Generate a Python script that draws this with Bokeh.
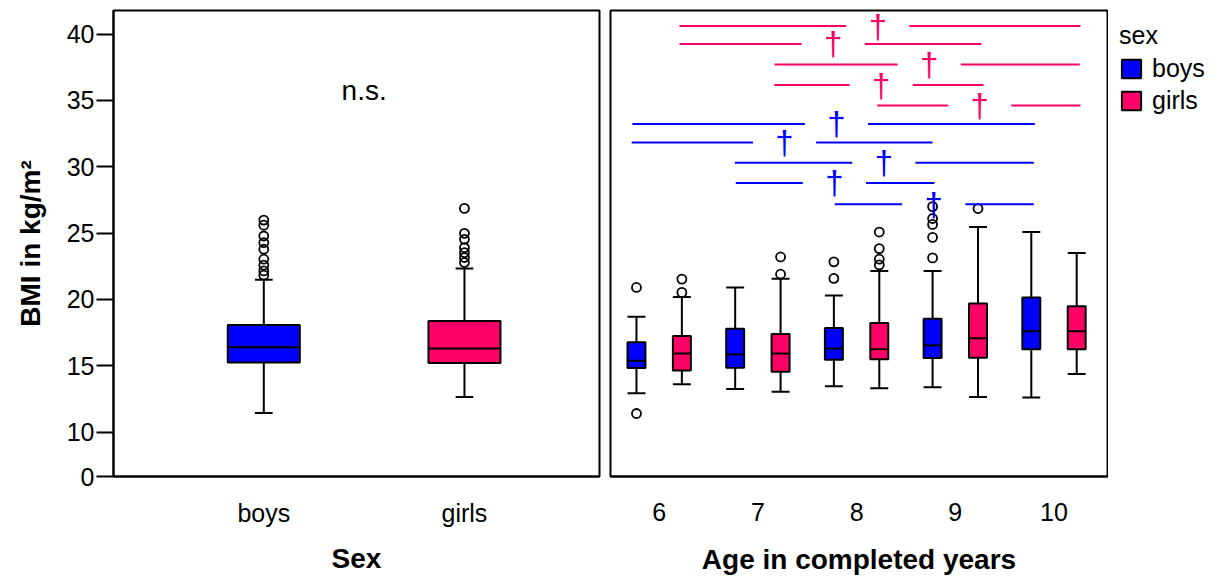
from bokeh.plotting import figure
from bokeh.models import Range1d, FixedTicker, CustomJSTickFormatter, Legend, LegendItem
from bokeh.layouts import row
from bokeh.embed import file_html
from bokeh.resources import INLINE
from bokeh.core.properties import value

FONT = "Liberation Sans"
BLUE = "#0000FF"
PINK = "#FF0066"

# ---------------- data: left panel (by sex) ----------------
sex_labels = ["boys", "girls"]
sex_pos = [1, 2]
sex_q1 = [15.25, 15.2]
sex_med = [16.4, 16.3]
sex_q3 = [18.08, 18.38]
sex_lo = [11.43, 12.65]
sex_hi = [21.48, 22.33]
boys_out_all = [21.83, 22.15, 22.58, 23.03, 23.78, 24.28, 24.78, 25.6, 25.98]
girls_out_all = [22.78, 23.16, 23.53, 23.9, 24.53, 24.98, 26.86]

# ---------------- data: right panel (by age and sex) ----------------
ages = [6, 7, 8, 9, 10]
boys_q1 = [14.83, 14.85, 15.45, 15.58, 16.25]
boys_med = [15.38, 15.85, 16.3, 16.55, 17.6]
boys_q3 = [16.78, 17.78, 17.85, 18.55, 20.15]
boys_lo = [12.93, 13.25, 13.45, 13.38, 12.6]
boys_hi = [18.7, 20.9, 20.3, 22.15, 25.08]
boys_out_age = [6, 6, 8, 8, 9, 9, 9, 9, 9]
boys_out_val = [20.9, 11.4, 21.58, 22.83, 23.13, 24.68, 25.65, 26.1, 27.0]

girls_q1 = [14.65, 14.55, 15.48, 15.6, 16.25]
girls_med = [15.93, 15.93, 16.25, 17.08, 17.6]
girls_q3 = [17.25, 17.4, 18.23, 19.7, 19.48]
girls_lo = [13.6, 13.03, 13.3, 12.65, 14.38]
girls_hi = [20.18, 21.55, 22.15, 25.45, 23.5]
girls_out_age = [6, 6, 7, 7, 8, 8, 8, 8, 9]
girls_out_val = [20.53, 21.53, 21.9, 23.2, 22.6, 23.03, 23.83, 25.08, 26.85]

# significance brackets (x in age units, y in BMI units)
sig_girls_start = [6.206, 6.206, 7.168, 7.168, 8.209]
sig_girls_end = [10.268, 9.265, 10.261, 9.286, 10.268]
sig_girls_mark = [8.215, 7.763, 8.736, 8.249, 9.248]
sig_girls_y = [40.61, 39.26, 37.71, 36.16, 34.61]

sig_boys_start = [5.729, 5.722, 6.766, 6.776, 7.779]
sig_boys_end = [9.806, 8.769, 9.795, 8.789, 9.795]
sig_boys_mark = [7.796, 7.270, 8.276, 7.776, 8.782]
sig_boys_y = [33.23, 31.83, 30.31, 28.78, 27.18]

ns_label = "n.s."
ns_x, ns_y = 1.5, 35.78

legend_title = "sex"
legend_labels = ["boys", "girls"]
legend_colors = [BLUE, PINK]

YMIN, YMAX = 6.65, 41.78
OFFSET = 0.23
GAP = 0.32


def style(p):
    p.outline_line_color = "black"
    p.outline_line_width = 2
    p.outline_line_alpha = 1
    p.xgrid.visible = False
    p.ygrid.visible = False
    p.background_fill_color = "white"
    p.border_fill_color = "white"


def draw_boxes(p, xs, q1, med, q3, lo, hi, color, bw, cw):
    r = p.quad(left=[x - bw / 2 for x in xs], right=[x + bw / 2 for x in xs],
               bottom=q1, top=q3, fill_color=color, line_color="black", line_width=2)
    p.segment(x0=xs, x1=xs, y0=q3, y1=hi, line_color="black", line_width=2)
    p.segment(x0=xs, x1=xs, y0=lo, y1=q1, line_color="black", line_width=2)
    p.segment(x0=[x - cw / 2 for x in xs], x1=[x + cw / 2 for x in xs], y0=hi, y1=hi,
              line_color="black", line_width=2)
    p.segment(x0=[x - cw / 2 for x in xs], x1=[x + cw / 2 for x in xs], y0=lo, y1=lo,
              line_color="black", line_width=2)
    p.segment(x0=[x - bw / 2 for x in xs], x1=[x + bw / 2 for x in xs], y0=med, y1=med,
              line_color="black", line_width=2)
    return r


def label_axis(ax, size="25px"):
    ax.major_label_text_font = FONT
    ax.major_label_text_font_size = size
    ax.major_label_text_color = "black"
    ax.axis_label_text_font = FONT
    ax.axis_label_text_font_size = "28px"
    ax.axis_label_text_font_style = "bold"
    ax.axis_label_text_color = "black"


H = 577
# ---------------- left figure ----------------
p1 = figure(width=604, height=H, x_range=Range1d(0.251, 2.673), y_range=Range1d(YMIN, YMAX),
            output_backend="svg", toolbar_location=None,
            min_border_left=113, min_border_right=5, min_border_top=10, min_border_bottom=99)
style(p1)

draw_boxes(p1, sex_pos, sex_q1, sex_med, sex_q3, sex_lo, sex_hi, [BLUE, PINK], 0.359, 0.088)
p1.scatter(x=[sex_pos[0]] * len(boys_out_all), y=boys_out_all, size=9, fill_alpha=0,
           line_color="black", line_width=1.8)
p1.scatter(x=[sex_pos[1]] * len(girls_out_all), y=girls_out_all, size=9, fill_alpha=0,
           line_color="black", line_width=1.8)
p1.text(x=[ns_x], y=[ns_y], text=[ns_label], text_font=value(FONT), text_font_size="28px",
        text_align="center", text_baseline="middle", text_color="black")

yax = p1.yaxis[0]
yax.ticker = FixedTicker(ticks=[YMIN, 10, 15, 20, 25, 30, 35, 40])
yax.formatter = CustomJSTickFormatter(code="return tick < 8 ? '0' : tick.toFixed(0)")
yax.major_tick_out = 17
yax.major_tick_in = 0
yax.major_tick_line_width = 2
yax.minor_tick_line_color = None
yax.axis_line_width = 2
yax.major_label_standoff = 2
yax.axis_label = "BMI in kg/m²"
yax.axis_label_standoff = 18
label_axis(yax)

xax = p1.xaxis[0]
xax.ticker = FixedTicker(ticks=sex_pos)
xax.major_label_overrides = {sex_pos[i]: sex_labels[i] for i in range(2)}
xax.major_tick_line_color = None
xax.minor_tick_line_color = None
xax.axis_line_width = 2
xax.major_label_standoff = 16
xax.axis_label = "Sex"
xax.axis_label_standoff = 13
label_axis(xax)

# ---------------- right figure ----------------
p2 = figure(width=504, height=H, x_range=Range1d(5.507, 10.542), y_range=Range1d(YMIN, YMAX),
            output_backend="svg", toolbar_location=None, y_axis_location=None,
            min_border_left=6, min_border_right=1, min_border_top=10, min_border_bottom=99)
style(p2)

draw_boxes(p2, [a - OFFSET for a in ages], boys_q1, boys_med, boys_q3, boys_lo, boys_hi,
           BLUE, 0.182, 0.182)
draw_boxes(p2, [a + OFFSET for a in ages], girls_q1, girls_med, girls_q3, girls_lo, girls_hi,
           PINK, 0.182, 0.182)
p2.scatter(x=[a - OFFSET for a in boys_out_age], y=boys_out_val, size=9, fill_alpha=0,
           line_color="black", line_width=1.8)
p2.scatter(x=[a + OFFSET for a in girls_out_age], y=girls_out_val, size=9, fill_alpha=0,
           line_color="black", line_width=1.8)


def draw_sig(p, start, end, mark, ys, color):
    x0 = start + [m + GAP for m in mark]
    x1 = [m - GAP for m in mark] + end
    yy = ys + ys
    p.segment(x0=x0, x1=x1, y0=yy, y1=yy, line_color=color, line_width=2)
    p.text(x=mark, y=ys, text=["†"] * len(mark), text_font=value(FONT), text_font_size="33px",
           text_align="center", text_baseline="middle", text_color=color)


draw_sig(p2, sig_girls_start, sig_girls_end, sig_girls_mark, sig_girls_y, PINK)
draw_sig(p2, sig_boys_start, sig_boys_end, sig_boys_mark, sig_boys_y, BLUE)

xax2 = p2.xaxis[0]
xax2.ticker = FixedTicker(ticks=ages)
xax2.major_tick_line_color = None
xax2.minor_tick_line_color = None
xax2.axis_line_width = 2
xax2.major_label_standoff = 20
xax2.axis_label = "Age in completed years"
xax2.axis_label_standoff = 20
label_axis(xax2)

# ---------------- legend figure ----------------
p3 = figure(width=106, height=H, x_range=Range1d(0, 1), y_range=Range1d(0, 1),
            output_backend="svg", toolbar_location=None,
            x_axis_location=None, y_axis_location=None,
            min_border_left=0, min_border_right=0, min_border_top=10, min_border_bottom=0)
p3.outline_line_color = None
p3.grid.visible = False
# legend proxies: one swatch per series, placed outside the visible range
items = []
for lab, col in zip(legend_labels, legend_colors):
    r = p3.quad(left=[2], right=[3], bottom=[2], top=[3], fill_color=col,
                line_color="black", line_width=2)
    items.append(LegendItem(label=lab, renderers=[r]))

legend = Legend(items=items, location="top_left", title=legend_title,
                title_text_font=FONT, title_text_font_size="25px", title_text_font_style="normal",
                title_text_color="black", title_standoff=4,
                label_text_font=FONT, label_text_font_size="25px", label_text_color="black",
                glyph_width=24, glyph_height=23, label_height=23, label_standoff=9,
                spacing=3, padding=0, margin=11,
                border_line_color=None, background_fill_alpha=0)
p3.add_layout(legend)

layout = row(p1, p2, p3)
open("out.html", "w").write(file_html(layout, INLINE))
